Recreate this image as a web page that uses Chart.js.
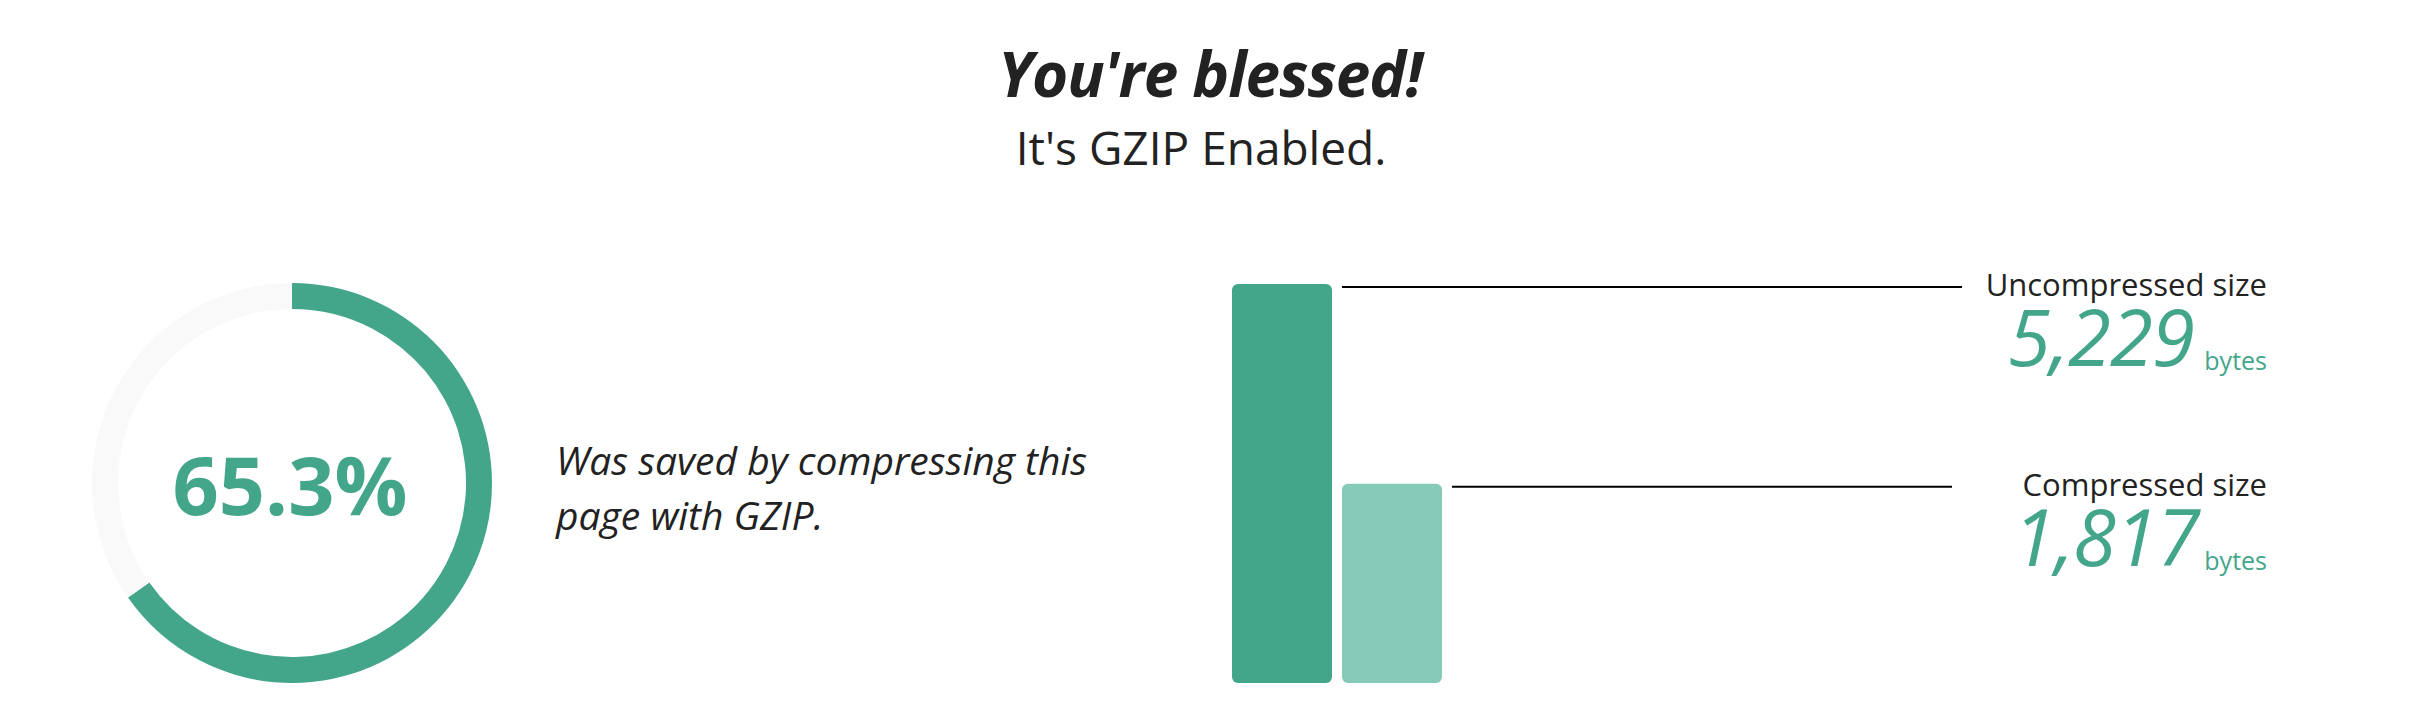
<!DOCTYPE html>
<html>
<head>
<meta charset="utf-8">
<script src="https://cdn.jsdelivr.net/npm/chart.js@4"></script>
<style>
	html, body { margin: 0; padding: 0; background: #fff; }
	body { width: 2436px; height: 710px; position: relative; overflow: hidden; font-family: "Open Sans", sans-serif; color: #222; }
	.t { position: absolute; line-height: 1; white-space: nowrap; }
	#title { left: 0; width: 2420px; top: 42px; text-align: center; font-size: 62px; font-weight: 700; font-style: italic; letter-spacing: -1px; }
	#subtitle { left: 0; width: 2402px; top: 124px; text-align: center; font-size: 46px; }
	#pct { left: 90px; width: 400px; top: 443px; text-align: center; font-size: 81px; font-weight: 700; color: #43a68b; }
	#desc { left: 556px; top: 432px; font-size: 39px; font-style: italic; line-height: 55px; }
	.lbl { font-size: 31px; text-align: right; }
	.num { font-size: 78px; font-weight: 400; font-style: italic; color: #43a68b; text-align: right; letter-spacing: -1px; }
	.unit { font-size: 25px; color: #43a68b; text-align: right; }
	#donutWrap { position: absolute; left: 82px; top: 273px; width: 420px; height: 420px; }
	#barWrap { position: absolute; left: 1217px; top: 270px; width: 760px; height: 420px; }
</style>
</head>
<body>
<div class="t" id="title">You're blessed!</div>
<div class="t" id="subtitle">It's GZIP Enabled.</div>

<div id="donutWrap"><canvas id="donut"></canvas></div>
<div class="t" id="pct"></div>
<div class="t" id="desc">Was saved by compressing this<br>page with GZIP.</div>

<div id="barWrap"><canvas id="bars"></canvas></div>
<div id="labels"></div>

<script>
const sizeLabels = ['Uncompressed size', 'Compressed size'];
const sizeBytes = [5229, 1817];
const barColors = ['#43a68b', '#85cbb7'];
const savedPct = [65.3, 34.7];

// where each label block sits (page px), and where each leader line stops
const labelRight = [2267, 2267];
const labelBaseline = [297, 497];
const numRight = [2194, 2199];
const numBaseline = [366, 566];
const lineEnd = [1962, 1952];

onload = () => {
	document.getElementById('pct').textContent = savedPct[0].toFixed(1) + '%';

	new Chart(document.getElementById('donut'), {
		type: 'doughnut',
		data: {
			labels: ['saved', 'rest'],
			datasets: [{
				data: savedPct,
				backgroundColor: ['#43a68b', '#f9f9f9'],
				borderWidth: 0
			}]
		},
		options: {
			responsive: true,
			maintainAspectRatio: false,
			animation: false,
			cutout: '87%',
			layout: { padding: 10 },
			plugins: { legend: { display: false }, tooltip: { enabled: false } }
		}
	});

	// leader lines from each bar top to its label
	const leaders = {
		id: 'leaders',
		afterDatasetsDraw(chart) {
			const ctx = chart.ctx;
			const meta = chart.getDatasetMeta(0);
			const left = chart.canvas.getBoundingClientRect().left;
			ctx.save();
			ctx.strokeStyle = '#000';
			ctx.lineWidth = 2;
			meta.data.forEach((bar, i) => {
				ctx.beginPath();
				ctx.moveTo(bar.x + bar.width / 2 + 10, bar.y + 3);
				ctx.lineTo(lineEnd[i] - left, bar.y + 3);
				ctx.stroke();
			});
			ctx.restore();
		}
	};

	const floor = -1585;
	new Chart(document.getElementById('bars'), {
		type: 'bar',
		data: {
			labels: sizeLabels,
			datasets: [{
				data: sizeBytes,
				base: floor,
				backgroundColor: barColors,
				borderRadius: 6,
				borderSkipped: false,
				categoryPercentage: 1,
				barPercentage: 100 / 110
			}]
		},
		options: {
			responsive: true,
			maintainAspectRatio: false,
			animation: false,
			layout: { padding: { left: 10, right: 530, top: 14, bottom: 7 } },
			scales: {
				x: { display: false },
				y: { display: false, min: floor, max: sizeBytes[0] }
			},
			plugins: { legend: { display: false }, tooltip: { enabled: false } }
		},
		plugins: [leaders]
	});

	const holder = document.getElementById('labels');
	sizeLabels.forEach((name, i) => {
		const lbl = document.createElement('div');
		lbl.className = 't lbl';
		lbl.textContent = name;
		lbl.style.right = (2436 - labelRight[i]) + 'px';
		lbl.style.top = (labelBaseline[i] - 0.888 * 31) + 'px';
		holder.appendChild(lbl);

		const num = document.createElement('div');
		num.className = 't num';
		num.textContent = sizeBytes[i].toLocaleString('en-US');
		num.style.right = (2436 - numRight[i]) + 'px';
		num.style.top = (numBaseline[i] - 0.888 * 78) + 'px';
		holder.appendChild(num);

		const unit = document.createElement('div');
		unit.className = 't unit';
		unit.textContent = 'bytes';
		unit.style.right = (2436 - labelRight[i]) + 'px';
		unit.style.top = (numBaseline[i] + 4 - 0.888 * 25) + 'px';
		holder.appendChild(unit);
	});
};
</script>
</body>
</html>
